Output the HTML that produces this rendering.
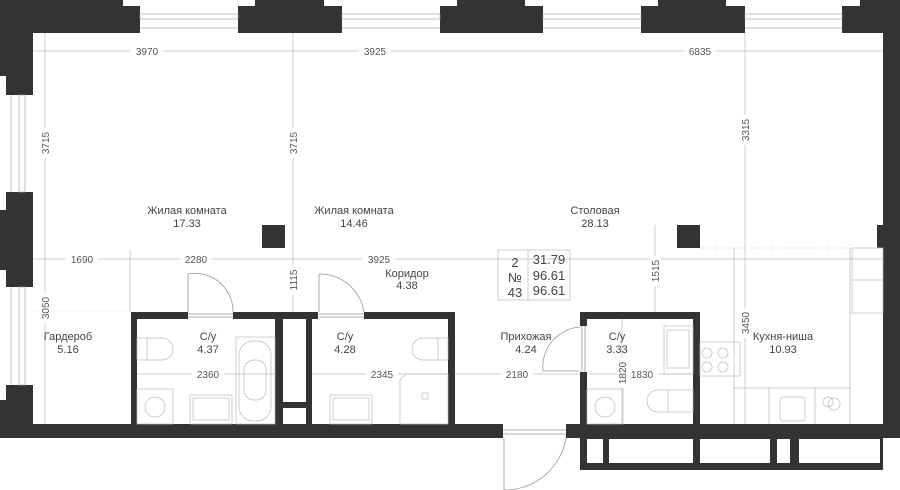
<!DOCTYPE html>
<html><head><meta charset="utf-8"><style>
html,body{margin:0;padding:0;background:#fff;}
svg{display:block;}
text{font-family:"Liberation Sans",sans-serif;fill:#444;}
.r{font-size:11px;text-anchor:middle;}
.d{font-size:10px;text-anchor:middle;fill:#555;}
</style></head><body>
<svg width="900" height="490" viewBox="0 0 900 490" xmlns="http://www.w3.org/2000/svg">
<g fill="#333">
<rect x="0" y="0" width="123" height="33"/>
<rect x="0" y="6" width="140" height="27"/>
<rect x="238" y="6" width="104" height="27"/>
<rect x="255" y="0" width="69" height="6"/>
<rect x="440" y="6" width="103" height="27"/>
<rect x="457" y="0" width="68" height="6"/>
<rect x="641" y="6" width="104" height="27"/>
<rect x="658" y="0" width="68" height="6"/>
<rect x="842" y="6" width="58" height="27"/>
<rect x="860" y="0" width="40" height="6"/>
<rect x="883" y="33" width="17" height="405"/>
<rect x="877" y="225" width="23" height="23"/>
<rect x="0" y="33" width="33" height="43"/>
<rect x="6" y="76" width="27" height="19"/>
<rect x="6" y="192" width="27" height="18"/>
<rect x="0" y="210" width="33" height="60"/>
<rect x="6" y="270" width="27" height="17"/>
<rect x="6" y="385" width="27" height="15"/>
<rect x="0" y="400" width="33" height="38"/>
<rect x="0" y="424" width="503" height="14"/>
<rect x="566" y="424" width="334" height="14"/>
<rect x="580" y="438" width="303" height="32"/>
<rect x="262" y="225" width="23" height="23"/>
<rect x="677" y="225" width="23" height="23"/>
<rect x="131" y="312" width="6" height="112"/>
<rect x="131" y="312" width="57" height="7"/>
<rect x="233" y="312" width="85" height="7"/>
<rect x="275" y="312" width="8" height="112"/>
<rect x="306" y="312" width="6" height="112"/>
<rect x="283" y="402" width="23" height="6"/>
<rect x="364" y="312" width="91" height="7"/>
<rect x="448" y="312" width="7" height="112"/>
<rect x="580" y="312" width="120" height="7"/>
<rect x="580" y="312" width="7" height="14"/>
<rect x="580" y="372" width="7" height="52"/>
<rect x="693" y="312" width="7" height="112"/>
</g>
<g fill="#fff">
<rect x="587" y="439" width="16" height="24"/>
<rect x="609" y="439" width="84" height="24"/>
<rect x="700" y="439" width="70" height="24"/>
<rect x="777" y="439" width="13" height="24"/>
<rect x="799" y="439" width="81" height="24"/>
</g>
<g stroke="#aaa" stroke-width="0.7" fill="none">
<rect x="140" y="14" width="98" height="5"/><line x1="140" y1="28" x2="238" y2="28"/>
<rect x="342" y="14" width="98" height="5"/><line x1="342" y1="28" x2="440" y2="28"/>
<rect x="543" y="14" width="98" height="5"/><line x1="543" y1="28" x2="641" y2="28"/>
<rect x="745" y="14" width="97" height="5"/><line x1="745" y1="28" x2="842" y2="28"/>
<rect x="19" y="95" width="6" height="97"/><line x1="11" y1="95" x2="11" y2="192"/>
<rect x="19" y="287" width="6" height="98"/><line x1="11" y1="287" x2="11" y2="385"/>
</g>
<g stroke="#999" stroke-width="0.8" fill="none">
<line x1="188" y1="312" x2="188" y2="274"/><path d="M188 274 A38 38 0 0 1 233 312"/>
<line x1="188" y1="314" x2="233" y2="314"/><line x1="188" y1="317" x2="233" y2="317"/>
<line x1="319" y1="312" x2="319" y2="274"/><path d="M319 274 A45 45 0 0 1 364 312"/>
<line x1="319" y1="314" x2="364" y2="314"/><line x1="319" y1="317" x2="364" y2="317"/>
<line x1="580" y1="371" x2="543" y2="371"/><path d="M543 371 A40 40 0 0 1 580 327"/>
<line x1="582" y1="326" x2="582" y2="372"/><line x1="585" y1="326" x2="585" y2="372"/>
<line x1="504" y1="438" x2="504" y2="490"/><path d="M504 490 A62 62 0 0 0 566 438"/>
<line x1="503" y1="430" x2="566" y2="430"/><line x1="503" y1="434" x2="566" y2="434"/>
</g>
<g stroke="#bbb" stroke-width="0.7" fill="none">
<line x1="33" y1="51" x2="883" y2="51"/>
<line x1="33" y1="259" x2="883" y2="259"/>
<line x1="45" y1="33" x2="45" y2="424"/>
<line x1="293" y1="33" x2="293" y2="312"/>
<line x1="130" y1="250" x2="130" y2="312"/>
<line x1="745" y1="33" x2="745" y2="424"/>
<line x1="655" y1="225" x2="655" y2="312"/>
<line x1="622" y1="319" x2="622" y2="424"/>
<line x1="137" y1="374" x2="275" y2="374"/>
<line x1="312" y1="374" x2="448" y2="374"/>
<line x1="455" y1="374" x2="580" y2="374"/>
<line x1="587" y1="374" x2="693" y2="374"/>
<line x1="700" y1="248" x2="883" y2="248" stroke="#ddd" stroke-dasharray="4 3"/>
<line x1="33" y1="311" x2="131" y2="311" stroke="#eee"/>
</g>
<g stroke="#bbb" stroke-width="0.7" fill="none">
<line x1="734" y1="248" x2="734" y2="424"/>
<rect x="700" y="342" width="40" height="34"/>
<line x1="734" y1="388" x2="850" y2="388"/>
<line x1="850" y1="248" x2="850" y2="424"/>
<rect x="852" y="248" width="31" height="65"/>
<line x1="852" y1="280" x2="883" y2="280"/>
<line x1="769" y1="388" x2="769" y2="424"/><line x1="815" y1="388" x2="815" y2="424"/>
<rect x="780" y="397" width="25" height="24" rx="3"/>
<circle cx="828" cy="402" r="5"/><circle cx="834" cy="404" r="6"/>
<circle cx="707" cy="353" r="5"/><circle cx="723" cy="353" r="5"/><circle cx="707" cy="367" r="5"/><circle cx="723" cy="367" r="5"/>
<rect x="137" y="338" width="10" height="22"/><path d="M147 338 h15 a11 11 0 0 1 0 22 h-15"/>
<rect x="137" y="389" width="36" height="35"/><circle cx="155" cy="407" r="10"/>
<rect x="190" y="395" width="42" height="29"/><rect x="193" y="398" width="36" height="22"/>
<rect x="236" y="337" width="39" height="87"/><rect x="239" y="341" width="32" height="80" rx="14"/><rect x="244" y="360" width="22" height="40" rx="10"/>
<rect x="438" y="338" width="10" height="22"/><path d="M438 338 h-15 a11 11 0 0 0 0 22 h15"/>
<path d="M400 380 l6 -6 h42 v50 h-48 z"/>
<rect x="330" y="395" width="42" height="29"/><rect x="333" y="398" width="36" height="22"/>
<rect x="422" y="393" width="6" height="6"/>
<rect x="587" y="389" width="36" height="35"/><circle cx="605" cy="407" r="10"/>
<rect x="668" y="390" width="25" height="22"/><path d="M668 390 h-10 a11 11 0 0 0 0 22 h10"/>
<rect x="664" y="326" width="29" height="48"/><rect x="667" y="330" width="22" height="38"/>
</g>
<g stroke="#bbb" stroke-width="0.7" fill="none">
<rect x="498" y="250" width="72" height="50"/><line x1="528" y1="250" x2="528" y2="300"/>
</g>
<text x="515" y="267" class="r" style="font-size:13px">2</text>
<text x="515" y="282" class="r" style="font-size:13px">№</text>
<text x="515" y="297" class="r" style="font-size:13px">43</text>
<text x="549" y="264" class="r" style="font-size:13px">31.79</text>
<text x="549" y="280" class="r" style="font-size:13px">96.61</text>
<text x="549" y="295" class="r" style="font-size:13px">96.61</text>
<text x="187" y="214" class="r">Жилая комната</text><text x="187" y="227" class="r">17.33</text>
<text x="354" y="214" class="r">Жилая комната</text><text x="354" y="227" class="r">14.46</text>
<text x="595" y="214" class="r">Столовая</text><text x="595" y="227" class="r">28.13</text>
<text x="407" y="277" class="r">Коридор</text><text x="407" y="289" class="r">4.38</text>
<text x="68" y="340" class="r">Гардероб</text><text x="68" y="353" class="r">5.16</text>
<text x="208" y="340" class="r">С/у</text><text x="208" y="353" class="r">4.37</text>
<text x="345" y="340" class="r">С/у</text><text x="345" y="353" class="r">4.28</text>
<text x="526" y="340" class="r">Прихожая</text><text x="526" y="353" class="r">4.24</text>
<text x="617" y="340" class="r">С/у</text><text x="617" y="353" class="r">3.33</text>
<text x="783" y="340" class="r">Кухня-ниша</text><text x="783" y="353" class="r">10.93</text>
<g>
<rect x="131" y="46" width="32" height="11" fill="#fff"/><text x="147" y="55" class="d">3970</text>
<rect x="359" y="46" width="32" height="11" fill="#fff"/><text x="375" y="55" class="d">3925</text>
<rect x="684" y="46" width="32" height="11" fill="#fff"/><text x="700" y="55" class="d">6835</text>
<rect x="66" y="254" width="32" height="11" fill="#fff"/><text x="82" y="263" class="d">1690</text>
<rect x="180" y="254" width="32" height="11" fill="#fff"/><text x="196" y="263" class="d">2280</text>
<rect x="363" y="254" width="32" height="11" fill="#fff"/><text x="379" y="263" class="d">3925</text>
<rect x="192" y="369" width="32" height="11" fill="#fff"/><text x="208" y="378" class="d">2360</text>
<rect x="366" y="369" width="32" height="11" fill="#fff"/><text x="382" y="378" class="d">2345</text>
<rect x="501" y="369" width="32" height="11" fill="#fff"/><text x="517" y="378" class="d">2180</text>
<rect x="626" y="369" width="32" height="11" fill="#fff"/><text x="642" y="378" class="d">1830</text>
</g>
<g>
<rect x="40" y="128" width="11" height="30" fill="#fff"/><text transform="translate(49,143) rotate(-90)" class="d">3715</text>
<rect x="288" y="128" width="11" height="30" fill="#fff"/><text transform="translate(297,143) rotate(-90)" class="d">3715</text>
<rect x="740" y="115" width="11" height="30" fill="#fff"/><text transform="translate(749,130) rotate(-90)" class="d">3315</text>
<rect x="40" y="293" width="11" height="30" fill="#fff"/><text transform="translate(49,308) rotate(-90)" class="d">3050</text>
<rect x="288" y="265" width="11" height="30" fill="#fff"/><text transform="translate(297,280) rotate(-90)" class="d">1115</text>
<rect x="650" y="256" width="11" height="30" fill="#fff"/><text transform="translate(659,271) rotate(-90)" class="d">1515</text>
<rect x="617" y="358" width="11" height="30" fill="#fff"/><text transform="translate(626,373) rotate(-90)" class="d">1820</text>
<rect x="740" y="308" width="11" height="30" fill="#fff"/><text transform="translate(749,323) rotate(-90)" class="d">3450</text>
</g>
</svg>
</body></html>
